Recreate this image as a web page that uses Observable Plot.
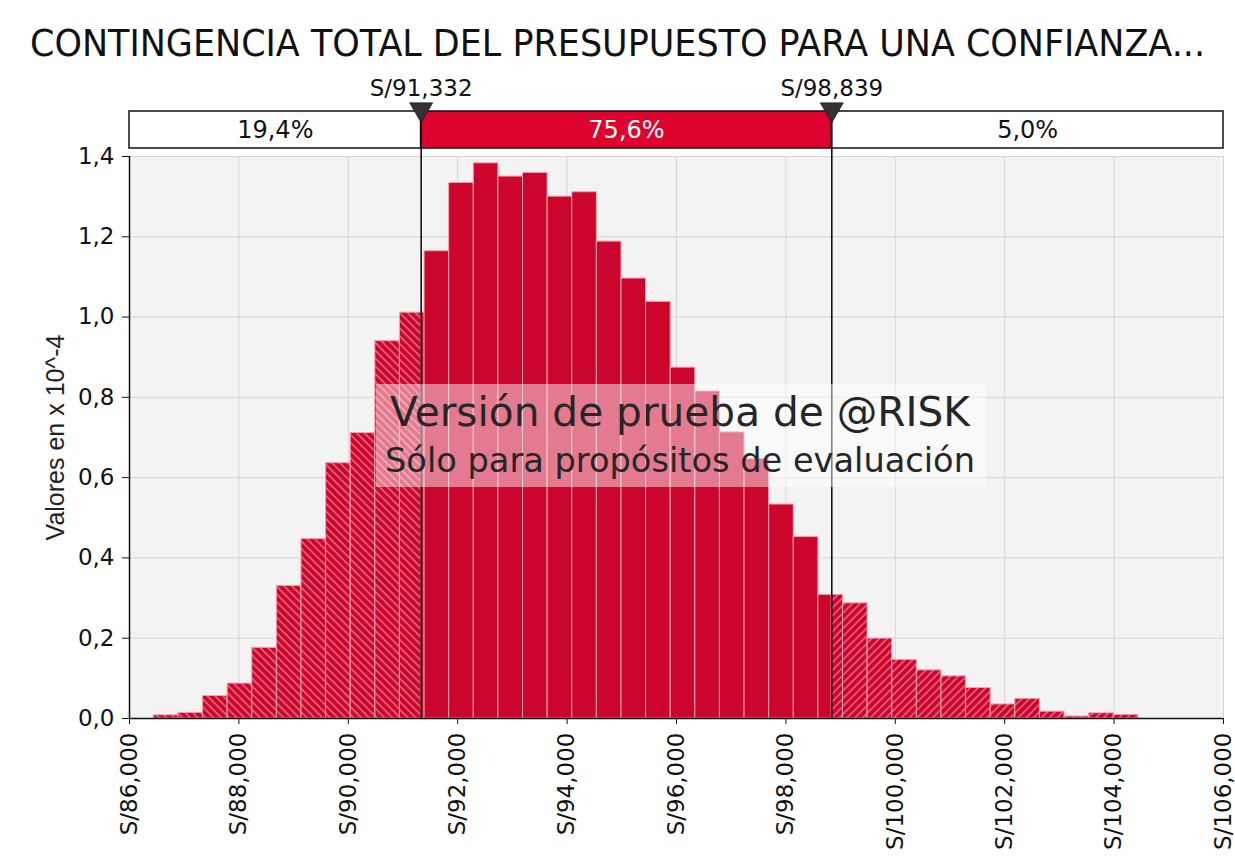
<!DOCTYPE html>
<html><head><meta charset="utf-8">
<script src="https://cdn.jsdelivr.net/npm/d3@7"></script>
<script src="https://cdn.jsdelivr.net/npm/@observablehq/plot@0.6"></script>
<style>
html,body{margin:0;padding:0;background:#fff;}
#wrap{position:relative;width:1235px;height:858px;overflow:hidden;background:#fff;}
#title{position:absolute;left:30px;top:24px;font-family:"DejaVu Sans";font-size:38px;line-height:1;white-space:nowrap;color:#111;transform-origin:0 0;}
#chart{position:absolute;left:0;top:70px;}
#wm{position:absolute;left:376px;top:384px;width:610px;height:103px;background:rgba(255,255,255,0.47);font-family:"DejaVu Sans";color:#262626;}
#wm .l1{position:absolute;left:14px;top:8px;font-size:40px;line-height:1;white-space:nowrap;transform-origin:0 0;}
#wm .l2{position:absolute;left:9px;top:60px;font-size:33px;line-height:1;white-space:nowrap;transform-origin:0 0;}
</style></head>
<body>
<div id="wrap">
  <div id="title">CONTINGENCIA TOTAL DEL PRESUPUESTO PARA UNA CONFIANZA...</div>
  <div id="chart"></div>
  <div id="wm"><div class="l1">Versión de prueba de @RISK</div><div class="l2">Sólo para propósitos de evaluación</div></div>
</div>
<script>
// ---- data ----
const binStart = 86444;
const binWidth = 450;
const density = [0.008, 0.014, 0.056, 0.087, 0.176, 0.330, 0.447, 0.636, 0.711, 0.940,
                 1.011, 1.164, 1.334, 1.383, 1.350, 1.359, 1.300, 1.311, 1.188, 1.096,
                 1.038, 0.874, 0.815, 0.713, 0.647, 0.533, 0.452, 0.308, 0.287, 0.199,
                 0.146, 0.120, 0.105, 0.076, 0.035, 0.049, 0.017, 0.005, 0.013, 0.009];
const delimiters = [91332, 98839];
const delimiterLabels = ["S/91,332", "S/98,839"];
const bandPercents = ["19,4%", "75,6%", "5,0%"];
const xDomain = [86000, 106000];
const xTicks = [86000, 88000, 90000, 92000, 94000, 96000, 98000, 100000, 102000, 104000, 106000];
const yTicks = [0, 0.2, 0.4, 0.6, 0.8, 1.0, 1.2, 1.4];
const yLabel = "Valores en x 10^-4";

// ---- derived tables ----
const segments = [];
density.forEach((v, i) => {
  const a = binStart + i * binWidth, b = a + binWidth;
  const cuts = [a, ...delimiters.filter(d => d > a && d < b), b];
  for (let k = 0; k < cuts.length - 1; k++) {
    const mid = (cuts[k] + cuts[k + 1]) / 2;
    const zone = mid < delimiters[0] ? "left" : mid > delimiters[1] ? "right" : "mid";
    segments.push({x1: cuts[k], x2: cuts[k + 1], v, zone});
  }
});
const bandEdges = [xDomain[0], ...delimiters, xDomain[1]];
const band = bandPercents.map((label, i) => ({x1: bandEdges[i], x2: bandEdges[i + 1], label, mid: i === 1}));

const W = 1235, H = 788, mTop = 86, mBottom = 140, mLeft = 129, mRight = 12;
const frameH = H - mTop - mBottom;
const red = "#cc052c";
const bandRed = "#de032e";
const sep = "#f3a0ad";

const chart = Plot.plot({
  width: W, height: H,
  marginTop: mTop, marginBottom: mBottom, marginLeft: mLeft, marginRight: mRight,
  x: {domain: xDomain},
  y: {domain: [0, 1.4]},
  style: {fontFamily: "DejaVu Sans", fontSize: "23px", color: "#111", background: "transparent", overflow: "visible"},
  marks: [
    Plot.frame({fill: "#f3f3f3", stroke: null}),
    Plot.gridX(xTicks, {stroke: "#d6d6d6", strokeOpacity: 1}),
    Plot.gridY(yTicks, {stroke: "#d6d6d6", strokeOpacity: 1}),
    Plot.rect(segments.filter(d => d.zone === "left"), {x1: "x1", x2: "x2", y1: 0, y2: "v", fill: "url(#hatchL)", stroke: sep, strokeWidth: 1}),
    Plot.rect(segments.filter(d => d.zone === "mid"), {x1: "x1", x2: "x2", y1: 0, y2: "v", fill: red, stroke: sep, strokeWidth: 1}),
    Plot.rect(segments.filter(d => d.zone === "right"), {x1: "x1", x2: "x2", y1: 0, y2: "v", fill: "url(#hatchR)", stroke: sep, strokeWidth: 1}),
    // percentage band above the frame
    Plot.rect(band.filter(d => !d.mid), {x1: "x1", x2: "x2", insetTop: -45, insetBottom: frameH + 8, fill: "#fff", stroke: "#111", strokeWidth: 1.5}),
    Plot.rect(band.filter(d => d.mid), {x1: "x1", x2: "x2", insetTop: -45, insetBottom: frameH + 8, fill: bandRed, stroke: "#111", strokeWidth: 1.5}),
    Plot.text(band.filter(d => !d.mid), {x: d => (d.x1 + d.x2) / 2, text: "label", frameAnchor: "top", lineAnchor: "middle", dy: -26, fontSize: 24, fill: "#111"}),
    Plot.text(band.filter(d => d.mid), {x: d => (d.x1 + d.x2) / 2, text: "label", frameAnchor: "top", lineAnchor: "middle", dy: -26, fontSize: 24, fill: "#fff"}),
    // delimiters
    Plot.ruleX(delimiters, {stroke: "#111", strokeWidth: 1.6, insetTop: -36}),
    Plot.dot(delimiters, {x: d => d, frameAnchor: "top", dy: -47, symbol: "triangle", rotate: 180, r: 8.6, fill: "#333", stroke: "#111", strokeWidth: 0.6}),
    Plot.text(delimiters, {x: d => d, text: (d, i) => delimiterLabels[i], frameAnchor: "top", lineAnchor: "middle", dy: -68, fontSize: 23, fill: "#111"}),
    // axes
    Plot.axisY(yTicks, {tickFormat: d => d.toFixed(1).replace(".", ","), tickSize: 7, tickPadding: 8, fontSize: 23, label: null}),
    Plot.axisX(xTicks, {tickFormat: d => "S/" + d3.format(",")(d), tickRotate: -90, tickSize: 6, tickPadding: 8, fontSize: 23, label: null}),
    Plot.ruleX([xDomain[0]], {stroke: "#111", strokeWidth: 1.5}),
    Plot.ruleY([0], {stroke: "#111", strokeWidth: 1.5}),
    Plot.text([yLabel], {text: d => d, frameAnchor: "left", rotate: -90, dx: -74, textAnchor: "middle", lineAnchor: "middle", fontFamily: "Liberation Sans", fontSize: 25, fill: "#222"})
  ]
});

// hatch patterns
const defs = d3.select(chart).insert("defs", ":first-child");
[["hatchL", -45], ["hatchR", 45]].forEach(([id, ang]) => {
  const p = defs.append("pattern").attr("id", id).attr("patternUnits", "userSpaceOnUse")
    .attr("width", 5.5).attr("height", 5.5).attr("patternTransform", `rotate(${ang})`);
  p.append("rect").attr("width", 5.5).attr("height", 5.5).attr("fill", red);
  p.append("line").attr("x1", 1).attr("y1", 0).attr("x2", 1).attr("y2", 5.5)
    .attr("stroke", "#ffd6dc").attr("stroke-opacity", 0.75).attr("stroke-width", 1);
});

document.getElementById("chart").appendChild(chart);

function fit(el, target) {
  el.style.transform = "none";
  const w = el.getBoundingClientRect().width;
  if (w > 0) el.style.transform = `scaleX(${target / w})`;
}
function fitAll() {
  fit(document.getElementById("title"), 1175);
  fit(document.querySelector("#wm .l1"), 580);
  fit(document.querySelector("#wm .l2"), 590);
}
fitAll();
if (document.fonts && document.fonts.ready) document.fonts.ready.then(fitAll);
</script>
</body></html>
